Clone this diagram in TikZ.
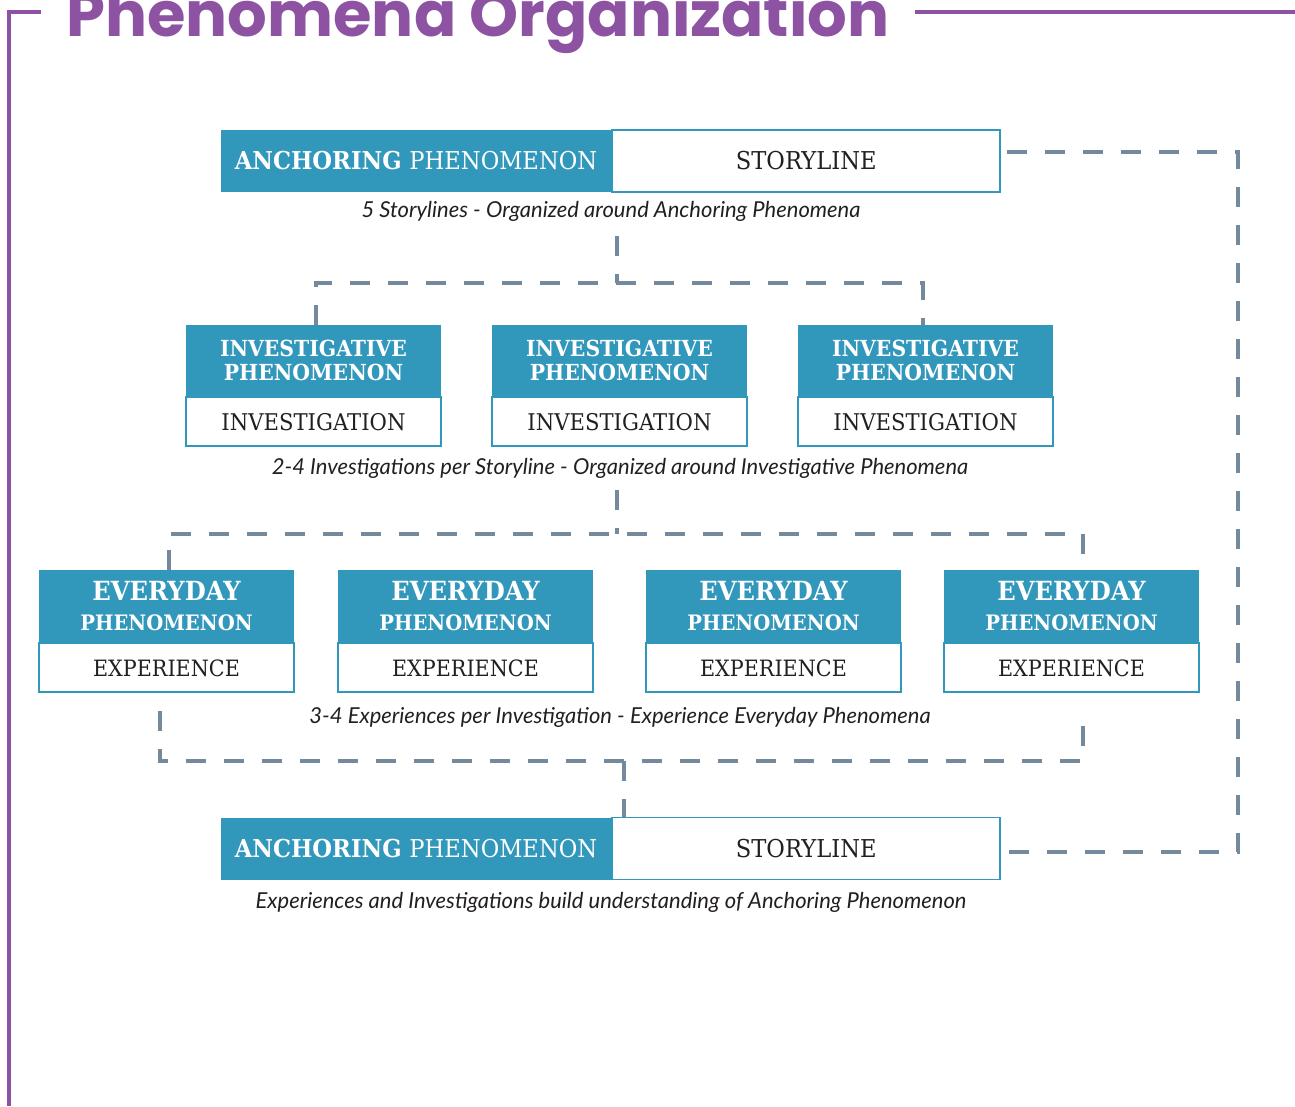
\documentclass[tikz,border=0pt]{standalone}
\usepackage{fontspec}
\usepackage{xcolor}
\usepackage{tikz}
\usetikzlibrary{positioning}
\newfontfamily\slabfont[FakeStretch=0.92]{DejaVu Serif}
\newfontfamily\notefont{Lato}
\newfontfamily\titlefont{Poppins}
\definecolor{ngsblue}{HTML}{3197BB}
\definecolor{framepurple}{HTML}{8D53A2}
\definecolor{linkgray}{HTML}{75899C}
\definecolor{inkdark}{HTML}{231F20}

\begin{document}
\begin{tikzpicture}[x=0.02cm,y=-0.02cm,
  head/.style={fill=ngsblue,text=white,inner sep=0pt,align=center,font=\slabfont},
  body/.style={draw=ngsblue,line width=1.1pt,fill=white,text=inkdark,inner sep=0pt,font=\slabfont},
  note/.style={text=inkdark,inner sep=0pt,font=\notefont\itshape\fontsize{12.5}{14}\selectfont},
  link/.style={draw=linkgray,line width=2.6pt,dash pattern=on 0.4cm off 0.36cm},
  frame/.style={draw=framepurple,line width=2.8pt,line join=miter}]
  \useasboundingbox (0,0) rectangle (1295,1106);

  % title and frame
  \node[anchor=base west,inner sep=0pt,text=framepurple,
        font=\titlefont\bfseries\fontsize{35.5}{40}\selectfont] (title) at (66,36) {Phenomena Organization};
  \draw[frame] (41,12) -- (9,12) -- (9,1106);
  \draw[frame] (915,12) -- (1295,12);

  % storyline on top
  \node[head,minimum width=7.8cm,minimum height=1.24cm,font=\slabfont\fontsize{14}{16}\selectfont]
    (anch1) at (416,161) {\bfseries ANCHORING \mdseries PHENOMENON};
  \node[body,minimum width=7.76cm,minimum height=1.24cm,font=\slabfont\fontsize{14}{16}\selectfont,
    right=0pt of anch1] (story1) {STORYLINE};
  \node[note] (cap1) at (611,211) {5 Storylines - Organized around Anchoring Phenomena};

  % investigations
  \foreach \i/\cx in {1/313.5,2/619.5,3/925.5} {
    \node[head,minimum width=5.1cm,minimum height=1.42cm,font=\slabfont\bfseries\fontsize{12.6}{13.7}\selectfont]
      (inv\i) at (\cx,360.5) {INVESTIGATIVE\\PHENOMENON};
    \node[body,minimum width=5.1cm,minimum height=0.98cm,font=\slabfont\fontsize{13.1}{15}\selectfont,
      below=0pt of inv\i] (invbody\i) {INVESTIGATION};
  }
  \node[note] (cap2) at (620,468) {2-4 Investigations per Storyline - Organized around Investigative Phenomena};

  % experiences
  \foreach \i/\cx in {1/166.5,2/465.5,3/773.5,4/1071.5} {
    \node[head,minimum width=5.1cm,minimum height=1.44cm,font=\slabfont\bfseries]
      (ev\i) at (\cx,606) {\fontsize{15}{17}\selectfont EVERYDAY\\[5pt]\fontsize{12.1}{17}\selectfont PHENOMENON};
    \node[body,minimum width=5.1cm,minimum height=0.98cm,font=\slabfont\fontsize{12.8}{15}\selectfont,
      below=0pt of ev\i] (evbody\i) {EXPERIENCE};
  }
  \node[note] (cap3) at (620,717) {3-4 Experiences per Investigation - Experience Everyday Phenomena};

  % storyline at the bottom
  \node[head,minimum width=7.8cm,minimum height=1.24cm,font=\slabfont\fontsize{14}{16}\selectfont]
    (anch2) at (416,848.5) {\bfseries ANCHORING \mdseries PHENOMENON};
  \node[body,minimum width=7.76cm,minimum height=1.24cm,font=\slabfont\fontsize{14}{16}\selectfont,
    right=0pt of anch2] (story2) {STORYLINE};
  \node[note] (cap4) at (611,902) {Experiences and Investigations build understanding of Anchoring Phenomenon};

  % dashed links
  \coordinate (stem1) at (617,236);
  \coordinate (fork1) at (617,283);
  \draw[link] (stem1) -- (fork1);
  \draw[link] ([xshift=0.05cm]inv1.north) |- (fork1) -| ([xshift=-0.05cm]inv3.north);

  \coordinate (stem2) at (617,490);
  \coordinate (fork2) at (617,534);
  \draw[link] (stem2) -- (fork2);
  \draw[link] ([xshift=0.05cm]ev1.north) |- (fork2) -| ([xshift=0.23cm]ev4.north);

  \coordinate (tickL) at (160,711);
  \coordinate (tickR) at (1083,711);
  \coordinate (fork3) at (624,761);
  \draw[link] (tickL) |- (fork3) -| (tickR);
  \draw[link] (fork3) -- (story2.north -| fork3);

  \coordinate (loopT) at (1007,152);
  \coordinate (loopR) at (1238,152);
  \coordinate (loopB) at (1007,852);
  \draw[link] (loopT) -- (loopR) |- (loopB);
\end{tikzpicture}
\end{document}
